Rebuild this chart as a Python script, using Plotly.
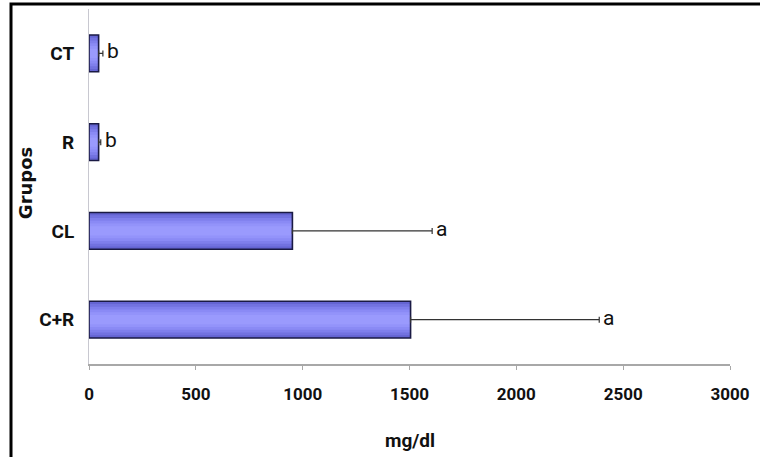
import plotly.graph_objects as go

# Data: serum values (mg/dl) per group, with upper error and significance letters
grupos = ["C+R", "CL", "R", "CT"]
valores = [1505, 952, 45, 45]
erros = [883, 654, 10, 20]
letras = ["a", "a", "b", "b"]

x_ticks = [0, 500, 1000, 1500, 2000, 2500, 3000]

FONT = "Roboto, Liberation Sans, sans-serif"
BAR_W = 0.415

fig = go.Figure()

# Soft horizontal gradient inside each bar: stacked layers, darker outside, lighter centre
layers = [
    (1.00, "#6464d2"),
    (0.85, "#7272e0"),
    (0.70, "#7f7fec"),
    (0.55, "#8a8af5"),
    (0.40, "#9393fa"),
    (0.25, "#9a9afd"),
]
for frac, col in layers:
    fig.add_trace(go.Bar(
        x=valores, y=grupos, orientation="h",
        width=BAR_W * frac,
        marker=dict(color=col, line=dict(width=0)),
        hoverinfo="skip", showlegend=False,
    ))

# Outline and error bars
fig.add_trace(go.Bar(
    x=valores, y=grupos, orientation="h",
    width=BAR_W,
    marker=dict(color="rgba(0,0,0,0)", line=dict(color="#1a1a44", width=1.6)),
    error_x=dict(type="data", array=erros, arrayminus=[0] * len(erros),
                 symmetric=False, color="#333333", thickness=1.2, width=3),
    showlegend=False,
))

# Significance letters at the end of each error bar
for g, v, e, l in zip(grupos, valores, erros, letras):
    fig.add_annotation(x=v + e, y=g, text=l, showarrow=False,
                       xanchor="left", xshift=2, yshift=2,
                       font=dict(family=FONT, size=21, color="#111111"))

# Axis titles
fig.add_annotation(xref="paper", yref="paper", x=0.5, y=-0.215,
                   text="<b>mg/dl</b>", showarrow=False,
                   xanchor="center", yanchor="middle",
                   font=dict(family=FONT, size=19, color="#111111"))
fig.add_annotation(xref="paper", yref="paper", x=-0.098, y=0.51,
                   text="<b>Grupos</b>", textangle=-90, showarrow=False,
                   xanchor="center", yanchor="middle",
                   font=dict(family="DejaVu Sans, sans-serif", size=18, color="#111111"))

# Black frame around the figure
PW, PH = 641, 355
fig.add_shape(type="rect", xref="paper", yref="paper",
              x0=(11 - 89) / PW, x1=2.0, y0=-1.0, y1=(364 - 4) / PH,
              line=dict(color="black", width=3), fillcolor="rgba(0,0,0,0)",
              layer="above")

fig.update_layout(
    width=760, height=457,
    margin=dict(l=89, r=30, t=9, b=93),
    paper_bgcolor="white", plot_bgcolor="white",
    barmode="overlay",
    xaxis=dict(range=[0, 3000], tickvals=x_ticks, ticktext=[f"<b>{t}</b>" for t in x_ticks],
               showgrid=False, zeroline=False, showline=True, linecolor="#a8a8a8",
               linewidth=1.5, ticks="outside", ticklen=4, tickcolor="#a8a8a8",
               ticklabelstandoff=10,
               tickfont=dict(family=FONT, size=17, color="#111111")),
    yaxis=dict(categoryorder="array", categoryarray=grupos,
               ticktext=[f"<b>{g}</b>" for g in grupos], tickvals=grupos,
               showgrid=False, zeroline=False, showline=True, linecolor="#c8c8d0",
               linewidth=1, ticks="", ticklabelstandoff=10,
               tickfont=dict(family=FONT, size=19, color="#111111")),
)

fig.write_html("out.html")
